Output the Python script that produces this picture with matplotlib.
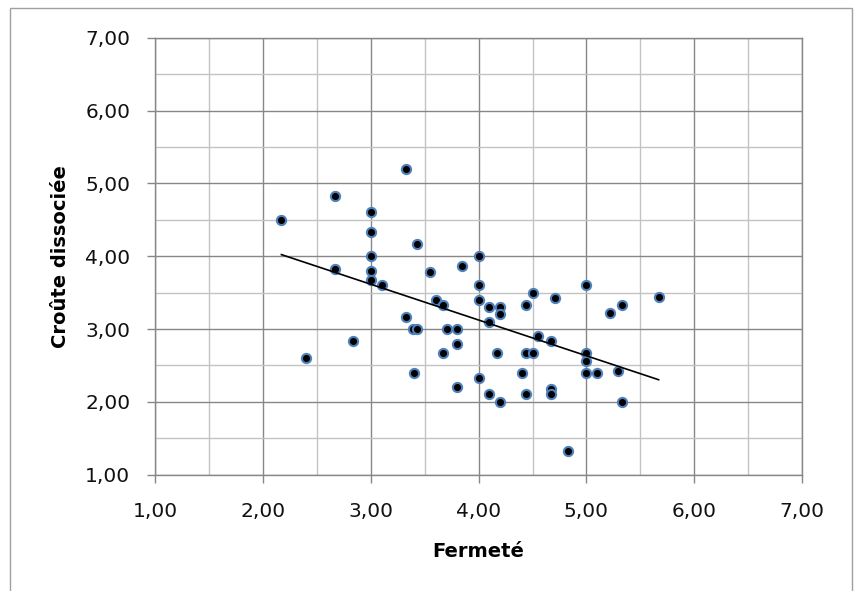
import matplotlib
matplotlib.use("Agg")
import matplotlib.pyplot as plt
import numpy as np
from matplotlib.patches import Rectangle
from matplotlib.ticker import MultipleLocator, FuncFormatter

# Fermeté (x) / Croûte dissociée (y)
fermete = [2.17, 2.40, 2.67, 2.67, 2.83, 3.00, 3.00, 3.00, 3.00, 3.00,
           3.10, 3.33, 3.33, 3.39, 3.43, 3.40, 3.43, 3.55, 3.60, 3.67,
           3.67, 3.71, 3.80, 3.80, 3.80, 3.85, 4.00, 4.00, 4.00, 4.00,
           4.10, 4.10, 4.10, 4.20, 4.20, 4.20, 4.17, 4.40, 4.44, 4.44,
           4.44, 4.50, 4.50, 4.55, 4.67, 4.67, 4.67, 4.71, 4.83, 5.00,
           5.00, 5.00, 5.00, 5.10, 5.22, 5.29, 5.33, 5.33, 5.67]
croute = [4.50, 2.60, 4.83, 3.83, 2.83, 4.60, 4.33, 4.00, 3.80, 3.67,
          3.60, 5.20, 3.17, 3.00, 3.00, 2.40, 4.17, 3.78, 3.40, 3.33,
          2.67, 3.00, 3.00, 2.80, 2.20, 3.86, 4.00, 3.60, 3.40, 2.33,
          3.30, 3.10, 2.11, 3.30, 3.20, 2.00, 2.67, 2.40, 3.33, 2.67,
          2.11, 3.50, 2.67, 2.90, 2.83, 2.17, 2.11, 3.43, 1.33, 3.60,
          2.67, 2.56, 2.40, 2.40, 3.22, 2.43, 3.33, 2.00, 3.44]

x_label = "Fermeté"
y_label = "Croûte dissociée"

plt.rcParams['font.family'] = ['DejaVu Sans']

fig = plt.figure(figsize=(8.59, 5.91), dpi=100)
ax = fig.add_axes([0.1808, 0.1968, 0.7528, 0.7394])

x = np.array(fermete)
y = np.array(croute)

ax.scatter(x, y, s=44, c='black', edgecolors='#4f81bd', linewidths=1.5, zorder=3)

# courbe de tendance linéaire
b, a = np.polyfit(x, y, 1)
xs = np.array([x.min(), x.max()])
ax.plot(xs, a + b * xs, color='black', lw=1.2, zorder=4)

ax.set_xlim(1, 7)
ax.set_ylim(1, 7)
ax.xaxis.set_major_locator(MultipleLocator(1))
ax.yaxis.set_major_locator(MultipleLocator(1))
ax.xaxis.set_minor_locator(MultipleLocator(0.5))
ax.yaxis.set_minor_locator(MultipleLocator(0.5))
fmt = FuncFormatter(lambda v, p: "{:.2f}".format(v).replace(".", ","))
ax.xaxis.set_major_formatter(fmt)
ax.yaxis.set_major_formatter(fmt)

ax.grid(which='major', color='#878787', lw=1.0, zorder=0)
ax.grid(which='minor', color='#c3c3c3', lw=1.0, zorder=0)
ax.set_axisbelow(True)
for s in ax.spines.values():
    s.set_color('#878787')
    s.set_linewidth(1.0)

ax.tick_params(which='major', length=6, width=1.0, color='#878787',
               labelsize=14.5, labelcolor='#111111')
ax.tick_params(axis='x', pad=14)
ax.tick_params(axis='y', pad=12)
ax.tick_params(which='minor', length=0)

ax.set_xlabel(x_label, fontsize=14, fontweight='bold', labelpad=15)
ax.set_ylabel(y_label, fontsize=14, fontweight='bold', labelpad=11)

# cadre du graphique
fig.add_artist(Rectangle((9.5 / 859, -0.05), (851.7 - 9.5) / 859, 1.05 - 7.5 / 591,
                         transform=fig.transFigure, fill=False,
                         ec='#a0a0a0', lw=1.0))

fig.savefig("out.png", dpi=100)
